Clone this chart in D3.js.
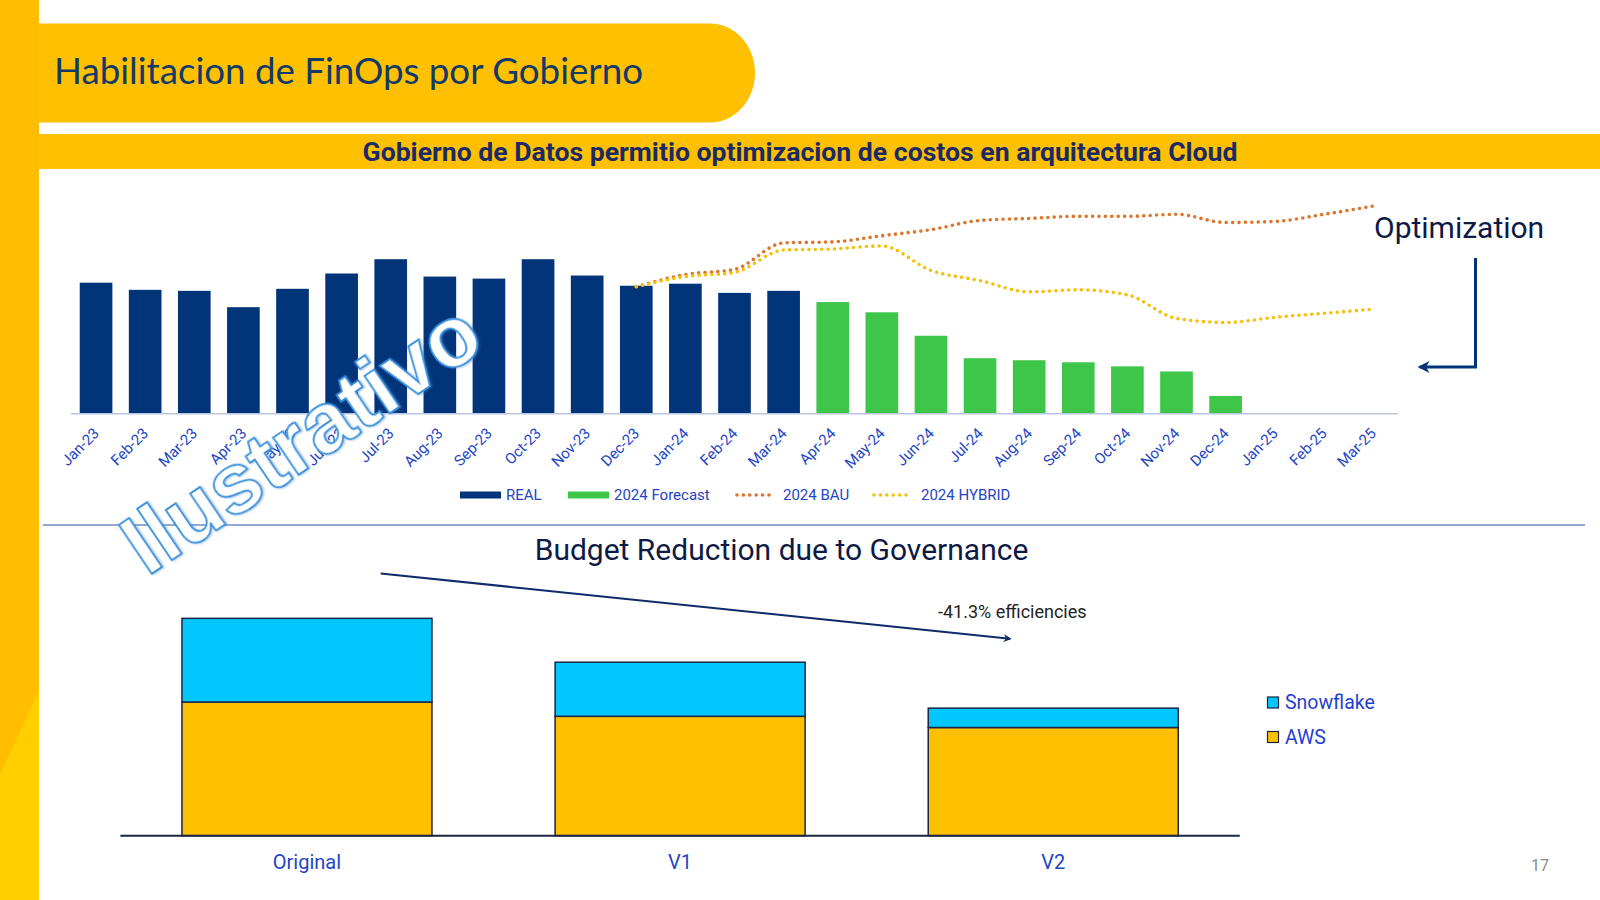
<!DOCTYPE html>
<html>
<head>
<meta charset="utf-8">
<script src="https://cdn.jsdelivr.net/npm/d3@7"></script>
<style>
  html, body { margin: 0; padding: 0; background: #ffffff; }
  svg { display: block; }
</style>
</head>
<body>
<svg id="chart" width="1600" height="900"></svg>
<script>
// ---------------- DATA ----------------
const months = ["Jan-23","Feb-23","Mar-23","Apr-23","May-23","Jun-23","Jul-23","Aug-23","Sep-23","Oct-23","Nov-23","Dec-23",
                "Jan-24","Feb-24","Mar-24","Apr-24","May-24","Jun-24","Jul-24","Aug-24","Sep-24","Oct-24","Nov-24","Dec-24",
                "Jan-25","Feb-25","Mar-25"];
const realMonths = months.slice(0, 15);           // Jan-23 .. Mar-24
const realValues = [128, 121, 120, 104, 122, 137, 151, 134, 132, 151, 135, 125, 127, 118, 120];
const forecastMonths = months.slice(15, 24);      // Apr-24 .. Dec-24
const forecastValues = [109, 99, 76, 54, 52, 50, 46, 41, 17];
const lineMonths = months.slice(11);              // Dec-23 .. Mar-25
const bauValues    = [124, 136, 141, 167, 168, 174, 180, 189, 191, 193, 193, 195, 187, 188, 195, 203];
const hybridValues = [124, 134, 138, 160, 161, 164, 140, 130, 119, 121, 116, 93, 89, 94, 98, 102];
const topLegend = ["REAL", "2024 Forecast", "2024 BAU", "2024 HYBRID"];

const budgetCats = ["Original", "V1", "V2"];
const awsValues = [131, 117, 106];
const snowflakeValues = [82, 53, 19];
const budgetLegend = ["Snowflake", "AWS"];

// ---------------- STYLE ----------------
const C = {
  yellow: "#fec000", navy: "#023479", green: "#3ec64a", bau: "#e0732a", hybrid: "#f5c00a",
  label: "#2345c6", dark: "#0e1a45", snow: "#00c8fe", aws: "#ffc000"
};

const svg = d3.select("#chart");

function fitText(sel, target) {
  sel.attr("textLength", target).attr("lengthAdjust", "spacingAndGlyphs");
}

// ---------- background decorations ----------
const defs = svg.append("defs");
defs.append("marker").attr("id", "arrowNavy").attr("viewBox", "0 0 10 10")
  .attr("refX", 8).attr("refY", 5).attr("markerWidth", 4).attr("markerHeight", 4)
  .attr("orient", "auto")
  .append("path").attr("d", "M0,0 L10,5 L0,10 L3,5 Z").attr("fill", "#0e2a6b");
defs.append("marker").attr("id", "arrowOpt").attr("viewBox", "0 0 10 10")
  .attr("refX", 8).attr("refY", 5).attr("markerWidth", 4).attr("markerHeight", 4)
  .attr("orient", "auto")
  .append("path").attr("d", "M0,0 L10,5 L0,10 L3,5 Z").attr("fill", "#003478");

// left stripe
svg.append("rect").attr("x", 0).attr("y", 0).attr("width", 39).attr("height", 900).attr("fill", "#ffbd00");
svg.append("path").attr("d", "M0,775 L39,690 L39,900 L0,900 Z").attr("fill", "#ffcf00");

// title pill
svg.append("path")
  .attr("d", "M39,23.5 L710,23.5 A45,49.5 0 0 1 710,122.5 L39,122.5 Z")
  .attr("fill", C.yellow);
const title = svg.append("text").attr("x", 54).attr("y", 84)
  .attr("font-family", "Lato, 'Open Sans', sans-serif").attr("font-size", 37)
  .attr("fill", "#133a66").text("Habilitacion de FinOps por Gobierno");
fitText(title, 589);

// subtitle band
svg.append("rect").attr("x", 39).attr("y", 134).attr("width", 1561).attr("height", 35).attr("fill", C.yellow);
const sub = svg.append("text").attr("x", 800).attr("y", 160.5).attr("text-anchor", "middle")
  .attr("font-family", "Roboto, sans-serif").attr("font-weight", "bold").attr("font-size", 26)
  .attr("fill", "#1b2a66").text("Gobierno de Datos permitio optimizacion de costos en arquitectura Cloud");
fitText(sub, 875);

// ---------------- TOP CHART ----------------
const base1 = 413.3;
const x1 = d3.scaleBand().domain(months).range([71.5, 1397.5]).paddingInner(0.335).paddingOuter(0.1675);
const y1 = d3.scaleLinear().domain([0, 250]).range([base1, base1 - 255.1]);

const gTop = svg.append("g");
gTop.selectAll("rect.real").data(realMonths).join("rect").attr("class", "real")
  .attr("x", d => x1(d)).attr("width", x1.bandwidth())
  .attr("y", (d, i) => y1(realValues[i])).attr("height", (d, i) => base1 - y1(realValues[i]))
  .attr("fill", C.navy);
gTop.selectAll("rect.fc").data(forecastMonths).join("rect").attr("class", "fc")
  .attr("x", d => x1(d)).attr("width", x1.bandwidth())
  .attr("y", (d, i) => y1(forecastValues[i])).attr("height", (d, i) => base1 - y1(forecastValues[i]))
  .attr("fill", C.green);

// axis
const ax1 = gTop.append("g").attr("transform", `translate(0,${base1})`)
  .call(d3.axisBottom(x1).tickSize(0).tickPadding(0));
ax1.select(".domain").attr("stroke", "#b9c6e2").attr("stroke-width", 1.5)
  .attr("d", "M71,0.5H1398");
ax1.selectAll(".tick text")
  .attr("font-family", "Roboto, sans-serif").attr("font-size", 15).attr("fill", C.label)
  .attr("text-anchor", "end").attr("dy", null).attr("y", 0)
  .attr("transform", "translate(4,21) rotate(-45)");

// lines
const lineGen = d3.line()
  .x((d, i) => x1(lineMonths[i]) + x1.bandwidth() / 2)
  .y(d => y1(d))
  .curve(d3.curveMonotoneX);
gTop.append("path").datum(bauValues).attr("d", lineGen).attr("fill", "none")
  .attr("stroke", C.bau).attr("stroke-width", 3.6).attr("stroke-linecap", "round").attr("stroke-dasharray", "0 6.4");
gTop.append("path").datum(hybridValues).attr("d", lineGen).attr("fill", "none")
  .attr("stroke", C.hybrid).attr("stroke-width", 3.6).attr("stroke-linecap", "round").attr("stroke-dasharray", "0 6.4");

// top legend
const legY = 495;
const legItems = [
  { x: 460, tx: 506, type: "bar", color: C.navy },
  { x: 568, tx: 614, type: "bar", color: C.green },
  { x: 735, tx: 783, type: "dot", color: C.bau },
  { x: 872, tx: 921, type: "dot", color: C.hybrid }
];
const leg = gTop.append("g");
legItems.forEach((it, i) => {
  if (it.type === "bar") {
    leg.append("rect").attr("x", it.x).attr("y", legY - 3.5).attr("width", 41).attr("height", 7).attr("fill", it.color);
  } else {
    leg.append("line").attr("x1", it.x + 2).attr("x2", it.x + 40).attr("y1", legY).attr("y2", legY)
      .attr("stroke", it.color).attr("stroke-width", 3.6).attr("stroke-linecap", "round").attr("stroke-dasharray", "0 6.4");
  }
  leg.append("text").attr("x", it.tx).attr("y", legY + 5).attr("font-family", "Roboto, sans-serif")
    .attr("font-size", 15).attr("fill", C.label).text(topLegend[i]);
});

// Optimization annotation
svg.append("text").attr("x", 1374).attr("y", 238).attr("font-family", "Roboto, sans-serif")
  .attr("font-size", 30).attr("fill", C.dark).text("Optimization");
svg.append("path").attr("d", "M1475.5,258 L1475.5,367 L1420,367").attr("fill", "none")
  .attr("stroke", "#003478").attr("stroke-width", 3).attr("marker-end", "url(#arrowOpt)");

// separator
svg.append("line").attr("x1", 43).attr("x2", 1585).attr("y1", 525).attr("y2", 525)
  .attr("stroke", "#6f8fc2").attr("stroke-width", 1.5);

// ---------------- BOTTOM CHART ----------------
const base2 = 835.7;
const x2 = d3.scaleBand().domain(budgetCats).range([120.4, 1239.8]).paddingInner(0.33).paddingOuter(0.165);
const y2 = d3.scaleLinear().domain([0, 250]).range([base2, base2 - 255.1]);
const gBot = svg.append("g");

svg.append("text").attr("x", 781.5).attr("y", 559.5).attr("text-anchor", "middle")
  .attr("font-family", "Roboto, sans-serif").attr("font-size", 30).attr("fill", C.dark)
  .text("Budget Reduction due to Governance");

const stack = budgetCats.map((c, i) => ({ cat: c, aws: awsValues[i], snow: snowflakeValues[i] }));
gBot.selectAll("rect.aws").data(stack).join("rect").attr("class", "aws")
  .attr("x", d => x2(d.cat)).attr("width", x2.bandwidth())
  .attr("y", d => y2(d.aws)).attr("height", d => base2 - y2(d.aws))
  .attr("fill", C.aws).attr("stroke", "#1c2444").attr("stroke-width", 1.5);
gBot.selectAll("rect.snow").data(stack).join("rect").attr("class", "snow")
  .attr("x", d => x2(d.cat)).attr("width", x2.bandwidth())
  .attr("y", d => y2(d.aws + d.snow)).attr("height", d => y2(d.aws) - y2(d.aws + d.snow))
  .attr("fill", C.snow).attr("stroke", "#1c2444").attr("stroke-width", 1.5);

const ax2 = gBot.append("g").attr("transform", `translate(0,${base2})`)
  .call(d3.axisBottom(x2).tickSize(0).tickPadding(0));
ax2.select(".domain").attr("stroke", "#1c2444").attr("stroke-width", 2).attr("d", "M120.4,0H1239.8");
ax2.selectAll(".tick text").attr("font-family", "Roboto, sans-serif").attr("font-size", 20)
  .attr("fill", C.label).attr("dy", null).attr("y", 33);

// trend arrow
const t0 = x2("Original") + x2.bandwidth() * 0.795, t1 = x2("V2") + x2.bandwidth() * 0.327;
gBot.append("line").attr("x1", t0).attr("y1", y2(257)).attr("x2", t1).attr("y2", y2(193))
  .attr("stroke", "#0e2a6b").attr("stroke-width", 2).attr("marker-end", "url(#arrowNavy)");
gBot.append("text").attr("x", 938).attr("y", 618).attr("font-family", "Roboto, sans-serif")
  .attr("font-size", 18).attr("fill", "#222").text("-41.3% efficiencies");

// bottom legend
const bl = [{ y: 697, c: C.snow }, { y: 731.5, c: C.aws }];
bl.forEach((it, i) => {
  gBot.append("rect").attr("x", 1267.5).attr("y", it.y).attr("width", 11).attr("height", 11)
    .attr("fill", it.c).attr("stroke", "#1c2444").attr("stroke-width", 1.2);
  gBot.append("text").attr("x", 1285).attr("y", it.y + 12).attr("font-family", "Roboto, sans-serif")
    .attr("font-size", 19.5).attr("fill", "#1f3fcf").text(budgetLegend[i]);
});

// page number
svg.append("text").attr("x", 1531).attr("y", 870.5).attr("font-family", "Roboto, sans-serif")
  .attr("font-size", 16).attr("fill", "#8a8a8a").text("17");

// watermark
svg.append("text").attr("transform", "translate(147,577) rotate(-34)")
  .attr("font-family", "'Liberation Sans', Arial, sans-serif").attr("font-weight", "bold").attr("font-size", 86)
  .attr("fill", "#ffffff").attr("stroke", "#3d92dc").attr("stroke-width", 1.8)
  .attr("style", "filter: drop-shadow(1px 1px 1px rgba(60,120,200,0.45))")
  .text("Ilustrativo");
</script>
</body>
</html>
